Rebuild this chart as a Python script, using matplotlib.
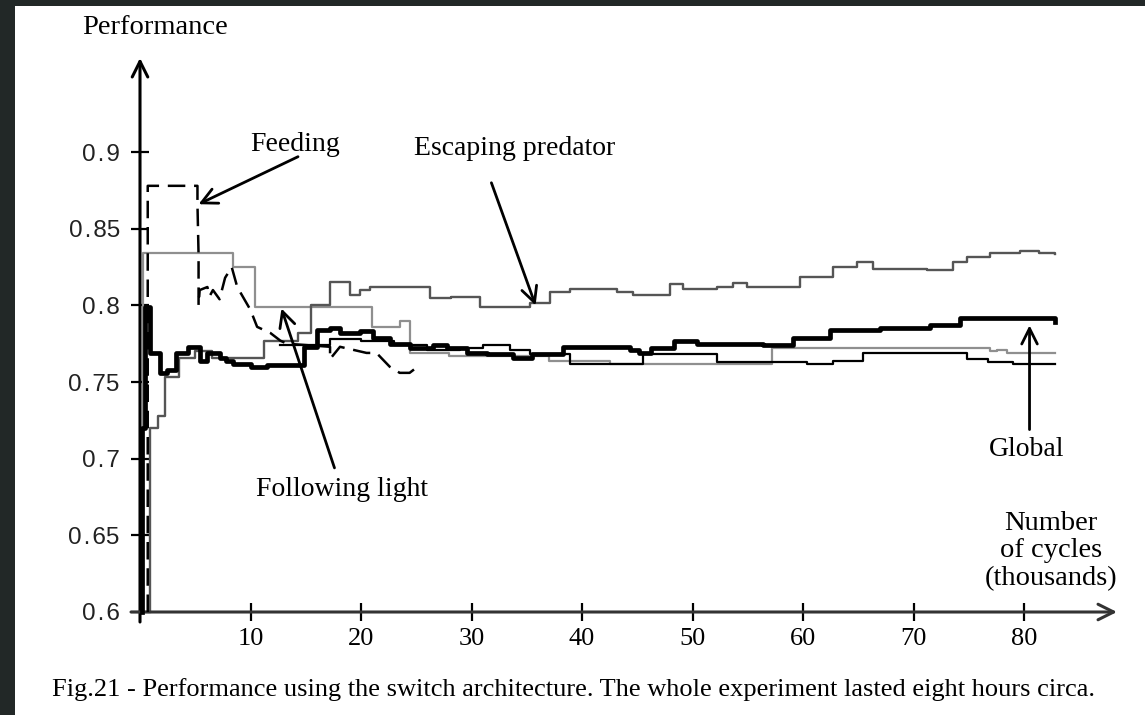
import matplotlib
matplotlib.use("Agg")
import matplotlib.pyplot as plt
from matplotlib.patches import Rectangle

# ---------------- data (thousands of cycles, performance) ----------------
global_t = [0.2, 0.2, 0.45, 0.9, 1.8, 2.4, 3.3, 4.3, 5.4, 6.1, 7.2, 7.8, 8.4, 10.0, 11.5,
            14.8, 16.0, 17.2, 18.1, 19.9, 21.1, 22.6, 24.4, 26.5, 27.8, 29.6, 31.4, 33.8,
            35.5, 38.3, 44.3, 45.2, 46.2, 48.3, 50.4, 56.4, 59.1, 62.4, 67.0, 71.5, 74.2,
            80.5, 82.8]
global_v = [0.600, 0.720, 0.799, 0.769, 0.756, 0.758, 0.769, 0.773, 0.764, 0.769, 0.766,
            0.764, 0.762, 0.760, 0.761, 0.773, 0.784, 0.785, 0.782, 0.783, 0.779, 0.775,
            0.772, 0.774, 0.772, 0.769, 0.768, 0.766, 0.768, 0.773, 0.771, 0.769, 0.772,
            0.777, 0.775, 0.774, 0.779, 0.784, 0.785, 0.787, 0.792, 0.792, 0.789]

escaping_t = [0.9, 0.9, 1.6, 2.3, 3.5, 5.0, 6.5, 8.8, 11.2, 14.3, 15.5, 17.2, 19.0, 19.9,
              20.8, 23.8, 26.2, 28.1, 30.8, 32.6, 35.3, 37.1, 38.9, 40.7, 43.2, 44.6,
              46.2, 48.0, 49.1, 52.2, 53.7, 54.9, 58.2, 59.7, 62.7, 64.9, 66.3, 71.2,
              73.6, 74.8, 76.9, 79.6, 81.4, 82.8]
escaping_v = [0.600, 0.720, 0.728, 0.753, 0.766, 0.770, 0.766, 0.766, 0.777, 0.782, 0.800,
              0.815, 0.807, 0.810, 0.812, 0.812, 0.805, 0.8055, 0.799, 0.799, 0.8015,
              0.809, 0.811, 0.811, 0.809, 0.807, 0.807, 0.814, 0.811, 0.812, 0.8145,
              0.812, 0.812, 0.8186, 0.825, 0.828, 0.824, 0.823, 0.828, 0.8316, 0.834,
              0.8355, 0.834, 0.8335]

following_t = [0.3, 0.3, 8.4, 10.4, 21.0, 23.5, 24.4, 28.0, 37.0, 42.5, 57.2, 76.9, 77.6,
               78.5, 82.8]
following_v = [0.600, 0.834, 0.825, 0.799, 0.786, 0.790, 0.769, 0.767, 0.764, 0.762,
               0.772, 0.770, 0.771, 0.769, 0.769]

feeding_t = [0.7, 0.7, 5.2, 5.2, 5.3, 5.3, 5.4, 6.1, 6.3, 6.6, 7.2, 7.7, 8.3, 8.8, 10.0,
             10.6, 11.8, 12.7, 13.3, 17.2, 17.2, 18.1, 20.5, 21.4, 22.6, 23.5, 24.4, 25.3]
feeding_v = [0.600, 0.878, 0.878, 0.866, 0.833, 0.800, 0.810, 0.812, 0.806, 0.810, 0.804,
             0.818, 0.825, 0.812, 0.797, 0.786, 0.782, 0.777, 0.775, 0.773, 0.765, 0.773,
             0.769, 0.769, 0.760, 0.756, 0.756, 0.761]

other_t = [12.7, 17.2, 20.0, 23.0, 26.0, 29.0, 31.0, 33.5, 35.3, 38.9, 45.5, 52.2, 60.4,
           62.7, 65.4, 74.8, 76.7, 79.0, 82.8]
other_v = [0.774, 0.778, 0.777, 0.774, 0.771, 0.772, 0.774, 0.771, 0.768, 0.762, 0.768,
           0.763, 0.762, 0.764, 0.769, 0.765, 0.763, 0.762, 0.762]

x_ticks = [10, 20, 30, 40, 50, 60, 70, 80]
y_ticks = [0.6, 0.65, 0.7, 0.75, 0.8, 0.85, 0.9]
y_ticklabels = ["0.6", "0.65", "0.7", "0.75", "0.8", "0.85", "0.9"]

caption = ("Fig.21 - Performance using the switch architecture. "
           "The whole experiment lasted eight hours circa.")

SERIF = ["Liberation Serif", "DejaVu Serif"]
SANS = ["Liberation Sans", "DejaVu Sans"]

# ---------------- figure ----------------
W, H = 1145, 715
fig = plt.figure(figsize=(W / 100, H / 100), dpi=100, facecolor="#222827")
fig.patches.append(Rectangle((15 / W, 0), 1 - 15 / W, (H - 6) / H,
                             transform=fig.transFigure, facecolor="white",
                             edgecolor="none", zorder=-10))

# axes: pixel 130..1120 horizontally, 625..55 vertically (from top)
ax = fig.add_axes([130 / W, (H - 625) / H, 990 / W, 570 / H])
ax.set_zorder(5)
ax.set_facecolor("none")
ax.set_xlim(-10 / 11.05, 980 / 11.05)
ax.set_ylim(0.6 - 13 / 1533, 0.6 + 557 / 1533)

for s in ax.spines.values():
    s.set_visible(False)
ax.spines["left"].set_position(("data", 0))
ax.spines["bottom"].set_position(("data", 0.6))

# series
ax.plot(following_t, following_v, drawstyle="steps-post", color="#8f8f8f", lw=1.6, zorder=2)
ax.plot(escaping_t, escaping_v, drawstyle="steps-post", color="#555555", lw=1.7, zorder=3)
ax.plot(other_t, other_v, drawstyle="steps-post", color="black", lw=1.6, zorder=3)
ax.plot(feeding_t, feeding_v, color="black", lw=1.8, ls=(0, (7, 3.5)), zorder=4)
ax.plot(global_t, global_v, drawstyle="steps-post", color="black", lw=3.4, zorder=5)

# axis lines with arrows
ax.annotate("", xy=(0, 0.6 + 554 / 1533), xytext=(0, 0.6 - 10 / 1533),
            arrowprops=dict(arrowstyle="->", lw=2.2, color="black", mutation_scale=28,
                            shrinkA=0, shrinkB=0), annotation_clip=False)
ax.annotate("", xy=(977 / 11.05, 0.6), xytext=(-9 / 11.05, 0.6),
            arrowprops=dict(arrowstyle="->", lw=2.2, color="#333333", mutation_scale=28,
                            shrinkA=0, shrinkB=0), annotation_clip=False)

ax.set_xticks(x_ticks)
ax.set_xticklabels([str(v) for v in x_ticks], family=SERIF, fontsize=19)
ax.set_yticks(y_ticks)
ax.set_yticklabels([s.replace(".", "\u200a.\u200a") for s in y_ticklabels],
                   family=SANS, fontsize=17.5, color="#222222")
ax.tick_params(axis="both", direction="inout", length=13, width=1.6, color="black")
ax.tick_params(axis="x", pad=5)
ax.tick_params(axis="y", pad=8)

# texts
fig.text(155 / W, 1 - 27 / H, "Performance", family=SERIF, fontsize=20.5,
         ha="center", va="center")
fig.text(1051 / W, 1 - 551 / H, "Number\nof cycles\n(thousands)", family=SERIF,
         fontsize=20.5, ha="center", va="center", linespacing=1.12)
fig.text(574 / W, 1 - 690 / H, caption, family=SERIF, fontsize=19,
         ha="center", va="center")

arrow_kw = dict(arrowstyle="->", lw=2.0, color="black", mutation_scale=28,
                shrinkA=0, shrinkB=0)
ax.annotate("Feeding", xy=(5.3, 0.866), xytext=(14.0, 0.905), family=SERIF,
            fontsize=20, ha="center", va="center")
ax.annotate("", xy=(5.3, 0.866), xytext=(14.3, 0.897), arrowprops=arrow_kw)

ax.annotate("Escaping predator", xy=(35.8, 0.8), xytext=(33.9, 0.9025), family=SERIF,
            fontsize=20, ha="center", va="center")
ax.annotate("", xy=(35.8, 0.8), xytext=(31.8, 0.880), arrowprops=arrow_kw)

ax.annotate("Following light", xy=(12.8, 0.798), xytext=(18.3, 0.680), family=SERIF,
            fontsize=20, ha="center", va="center")
ax.annotate("", xy=(12.8, 0.798), xytext=(17.6, 0.694), arrowprops=arrow_kw)

ax.annotate("Global", xy=(80.5, 0.787), xytext=(80.2, 0.706), family=SERIF,
            fontsize=20, ha="center", va="center")
ax.annotate("", xy=(80.5, 0.787), xytext=(80.5, 0.719), arrowprops=arrow_kw)

fig.savefig("out.png", dpi=100, facecolor=fig.get_facecolor())
